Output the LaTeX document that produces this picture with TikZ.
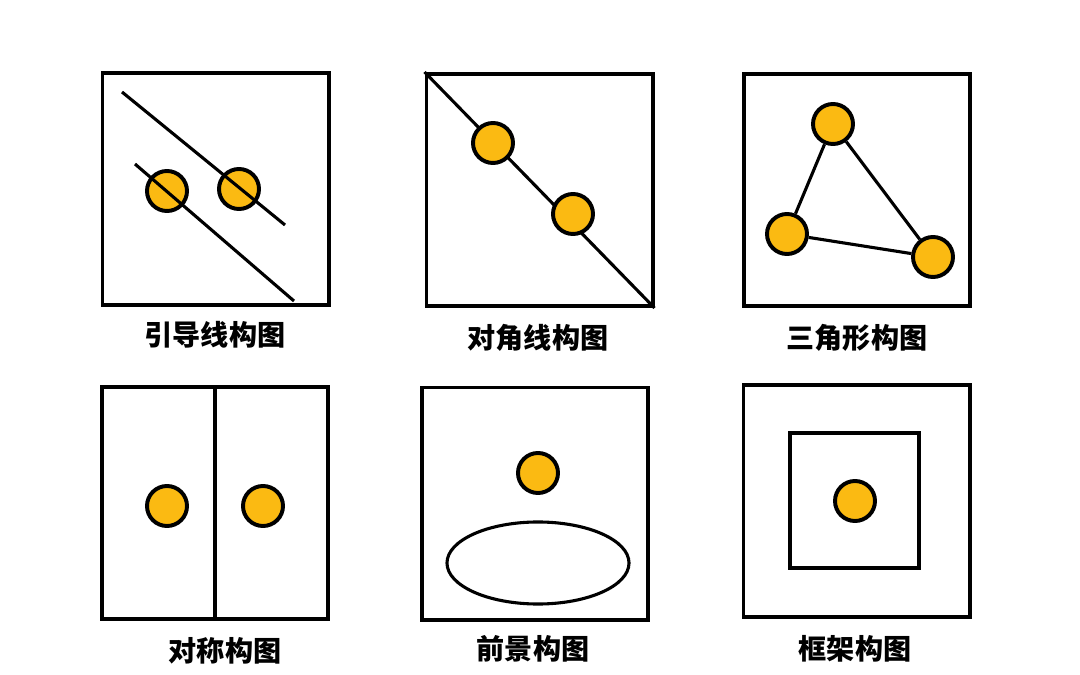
\documentclass[tikz,border=0pt]{standalone}
\usepackage{fontspec}
\newfontfamily\cjk{Noto Sans CJK SC}
\usetikzlibrary{shapes}
\definecolor{dotYellow}{HTML}{FBBA12}

\begin{document}
\begin{tikzpicture}[x = 0.025cm, y = -0.025cm, font=\cjk\bfseries]
	\tikzstyle{panelStyle}=[draw, line width = 2.8pt, inner sep = 0pt, minimum width = 5.65cm, minimum height = 5.8cm]
	\tikzstyle{dotStyle}=[shape = circle, minimum size = 1cm, inner sep = 0pt, draw, line width = 2.8pt, fill = dotYellow]
	\tikzstyle{lineStyle}=[line width = 2.2pt]
	\tikzstyle{captionStyle}=[font = \cjk\bfseries\fontsize{20pt}{22pt}\selectfont]
	\useasboundingbox (0, 0) rectangle (1080, 675);
	% panels
	\node[panelStyle] (p1) at (215.5, 189) {};
	\node[panelStyle] (p2) at (539.5, 190) {};
	\node[panelStyle] (p3) at (857, 190) {};
	\node[panelStyle] (p4) at (215, 503) {};
	\node[panelStyle] (p5) at (535, 503.5) {};
	\node[panelStyle] (p6) at (856.5, 501) {};
	% captions
	\node[captionStyle] (t1) at (215, 335) {引导线构图};
	\node[captionStyle] (t2) at (538, 338) {对角线构图};
	\node[captionStyle] (t3) at (857, 338) {三角形构图};
	\node[captionStyle] (t4) at (225, 651) {对称构图};
	\node[captionStyle] (t5) at (533, 649) {前景构图};
	\node[captionStyle] (t6) at (855, 649) {框架构图};
	% leading lines
	\node[dotStyle] (d1) at (167, 191) {};
	\node[dotStyle] (d2) at (239, 189) {};
	\coordinate (a1) at (122, 92);
	\coordinate (a2) at (285, 225);
	\coordinate (b1) at (135, 164);
	\coordinate (b2) at (294, 301);
	\draw[lineStyle] (a1) -- (a2);
	\draw[lineStyle] (b1) -- (b2);
	% diagonal
	\draw[lineStyle] (p2.north west) -- (p2.south east);
	\node[dotStyle] (d3) at (493, 143) {};
	\node[dotStyle] (d4) at (573, 214) {};
	% triangle
	\node[dotStyle] (d5) at (833, 124) {};
	\node[dotStyle] (d6) at (787, 234) {};
	\node[dotStyle] (d7) at (933, 257) {};
	\draw[lineStyle] (d5) -- (d6);
	\draw[lineStyle] (d6) -- (d7);
	\draw[lineStyle] (d7) -- (d5);
	% symmetry
	\draw[lineStyle] (p4.north) -- (p4.south);
	\node[dotStyle] (d8) at (167, 506) {};
	\node[dotStyle] (d9) at (263, 506) {};
	% foreground
	\node[dotStyle] (d10) at (538, 473) {};
	\node[draw, shape = ellipse, line width = 2.2pt, minimum width = 4.55cm, minimum height = 2.05cm] (e1) at (538, 563) {};
	% frame
	\node[draw, line width = 2.8pt, minimum width = 3.22cm, minimum height = 3.37cm] (f1) at (854.5, 500.5) {};
	\node[dotStyle] (d11) at (855, 501) {};
\end{tikzpicture}
\end{document}
